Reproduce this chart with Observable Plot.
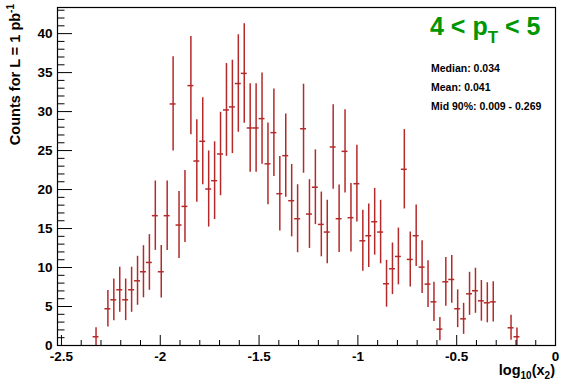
<!DOCTYPE html>
<html><head><meta charset="utf-8">
<script src="https://cdn.jsdelivr.net/npm/d3@7"></script>
<script src="https://cdn.jsdelivr.net/npm/@observablehq/plot@0.6"></script>
<style>body{margin:0;background:#fff;} svg{display:block;}</style>
</head><body><div id="chart"></div>
<script>
// log10(x2) bin centres (bin width 0.03, range -2.52 .. 0)
const binCenters = [-2.325,-2.265,-2.235,-2.205,-2.175,-2.145,-2.115,-2.085,-2.055,-2.025,
  -1.995,-1.965,-1.935,-1.905,-1.875,-1.845,-1.815,-1.785,-1.755,-1.725,
  -1.695,-1.665,-1.635,-1.605,-1.575,-1.545,-1.515,-1.485,-1.455,-1.425,
  -1.395,-1.365,-1.335,-1.305,-1.275,-1.245,-1.215,-1.185,-1.155,-1.125,
  -1.095,-1.065,-1.035,-1.005,-0.975,-0.945,-0.915,-0.885,-0.855,-0.825,
  -0.795,-0.765,-0.735,-0.705,-0.675,-0.645,-0.615,-0.585,-0.555,-0.525,
  -0.495,-0.465,-0.435,-0.405,-0.375,-0.345,-0.315,-0.225,-0.195];
const counts = [1.12,4.71,5.86,7.15,5.86,7.15,8.30,9.46,10.65,16.65,
  9.46,16.65,30.98,15.45,17.84,33.33,23.66,26.19,20.07,21.14,
  24.56,30.21,30.6,33.6,34.9,27.9,27.9,29.1,23.3,27.3,
  19.47,24.35,18.57,16.26,27.8,16.86,20.3,15.53,14.55,25.46,
  16.26,24.9,16.39,20.75,13.43,14.08,15.87,14.55,7.92,9.84,
  11.42,22.6,11.04,14.08,10.05,7.87,5.6,2.1,8.17,8.47,
  4.71,3.42,6.63,7.02,5.73,5.48,5.6,2.27,1.12];
const errors = [1.15,2.35,2.67,2.89,2.67,2.89,3.14,3.34,3.57,4.45,
  3.38,4.45,6.05,4.30,4.62,6.31,5.28,5.58,4.88,4.99,
  5.35,5.95,5.99,6.25,6.38,5.67,5.67,5.84,5.24,5.61,
  4.77,5.35,4.64,4.36,5.71,4.41,4.79,4.15,4.07,5.43,
  4.34,5.35,4.39,4.92,3.92,4.07,4.28,4.07,3.0,3.31,
  3.64,5.09,3.53,3.94,3.38,3.0,2.52,1.5,3.12,3.06,
  2.42,1.99,2.76,2.89,2.61,2.57,2.57,1.6,1.13];
const binWidth = 0.03;
const xMajorTicks = [-2.5, -2, -1.5, -1, -0.5, 0];
const xMinorTicks = [-2.4,-2.3,-2.2,-2.1,-1.9,-1.8,-1.7,-1.6,-1.4,-1.3,-1.2,-1.1,-0.9,-0.8,-0.7,-0.6,-0.4,-0.3,-0.2,-0.1];
const yMajorTicks = [0, 5, 10, 15, 20, 25, 30, 35, 40];
const yMinorTicks = d3.range(0, 44).filter(v => v % 5 !== 0);

const W = 567, H = 384, mL = 57, mR = 12, mT = 7, mB = 39;
const pw = W - mL - mR, ph = H - mT - mB;
const red = "#b42a2a";
const rows = binCenters.map((x, i) => ({x, v: counts[i], e: errors[i]}));

const chart = Plot.plot({
  width: W, height: H,
  marginLeft: mL, marginRight: mR, marginTop: mT, marginBottom: mB,
  style: {fontFamily: "'Liberation Sans', Arial, Helvetica, sans-serif", fontSize: "13.5px", fontWeight: "bold", color: "#000", background: "#fff"},
  x: {domain: [-2.52, 0], label: null},
  y: {domain: [0, 43.35], label: null},
  marks: [
    Plot.ruleX(rows, {x: "x", y1: d => Math.max(0, d.v - d.e), y2: d => d.v + d.e, stroke: red, strokeWidth: 1.5}),
    Plot.ruleY(rows, {y: "v", x1: d => d.x - binWidth / 2, x2: d => d.x + binWidth / 2, stroke: red, strokeWidth: 1.5}),
    Plot.tickX(xMajorTicks, {x: d => d, insetTop: ph - 10, stroke: "#000"}),
    Plot.tickX(xMinorTicks, {x: d => d, insetTop: ph - 5, stroke: "#000"}),
    Plot.tickY(yMajorTicks, {y: d => d, insetRight: pw - 15, stroke: "#000"}),
    Plot.tickY(yMinorTicks, {y: d => d, insetRight: pw - 7.5, stroke: "#000"}),
    Plot.axisX(xMajorTicks, {tickSize: 0, tickPadding: 6, tickFormat: d => String(d), fontWeight: "bold", fontSize: 13.5}),
    Plot.axisY(yMajorTicks, {tickSize: 0, tickPadding: 5, tickFormat: d => String(d), fontWeight: "bold", fontSize: 13.5}),
    Plot.frame({stroke: "#000", strokeWidth: 1.2})
  ]
});
document.getElementById("chart").appendChild(chart);

const svg = d3.select(chart);
const ff = "'Liberation Sans', Arial, Helvetica, sans-serif";
// y title
const yt = svg.append("text").attr("transform", "translate(20,4) rotate(-90)")
  .attr("text-anchor", "end").attr("font-family", ff).attr("font-weight", "bold").attr("font-size", 14.5).attr("fill", "#000");
yt.append("tspan").text("Counts for L = 1 pb");
yt.append("tspan").attr("dy", -6).attr("font-size", 10).text("-1");
// x title
const xt = svg.append("text").attr("x", W - mR).attr("y", 375)
  .attr("text-anchor", "end").attr("font-family", ff).attr("font-weight", "bold").attr("font-size", 14.5).attr("fill", "#000");
xt.append("tspan").text("log");
xt.append("tspan").attr("dy", 4).attr("font-size", 10).text("10");
xt.append("tspan").attr("dy", -4).text("(x");
xt.append("tspan").attr("dy", 4).attr("font-size", 10).text("2");
xt.append("tspan").attr("dy", -4).text(")");
// pT label
const tt = svg.append("text").attr("x", 430).attr("y", 35).attr("text-anchor", "start")
  .attr("font-family", ff).attr("font-weight", "bold").attr("font-size", 25).attr("fill", "#009600");
tt.append("tspan").text("4 < p");
tt.append("tspan").attr("dy", 8).attr("font-size", 17).text("T");
tt.append("tspan").attr("dy", -8).text(" < 5");
// stats
const stats = ["Median: 0.034", "Mean: 0.041", "Mid 90%: 0.009 - 0.269"];
stats.forEach((s, i) => {
  svg.append("text").attr("x", 431).attr("y", 71.5 + 19 * i).attr("text-anchor", "start")
    .attr("font-family", ff).attr("font-weight", "bold").attr("font-size", 10.5).attr("fill", "#000").text(s);
});
</script>
</body></html>
